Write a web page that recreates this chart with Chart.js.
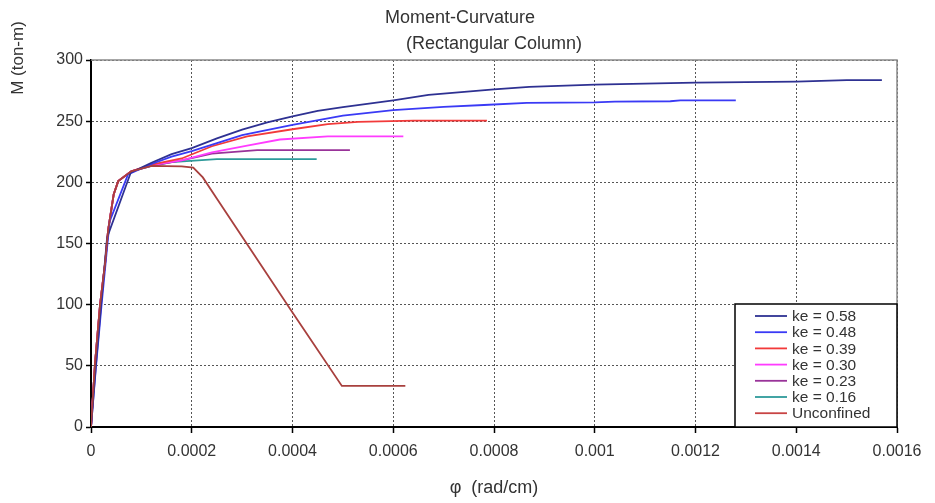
<!DOCTYPE html>
<html>
<head>
<meta charset="utf-8">
<script src="https://cdn.jsdelivr.net/npm/chart.js@4/dist/chart.umd.min.js"></script>
<style>
  html, body { margin: 0; padding: 0; background: #fff; }
  #wrap { width: 935px; height: 503px; }
</style>
</head>
<body>
<div id="wrap"><canvas id="c" width="935" height="503"></canvas></div>
<script>
// ---- Data ----
const seriesLabels = ['ke = 0.58', 'ke = 0.48', 'ke = 0.39', 'ke = 0.30', 'ke = 0.23', 'ke = 0.16', 'Unconfined'];

const phi058 = [0, 0.00001, 0.00002, 0.000032, 0.000079, 0.00012, 0.00016, 0.0002, 0.00025, 0.0003, 0.00035, 0.0004, 0.00045, 0.0005, 0.0006, 0.00067, 0.0008, 0.00087, 0.001, 0.0012, 0.0014, 0.0015, 0.00157];
const m058   = [0, 52, 100, 155, 208, 216, 223, 228, 236, 243, 249, 254, 258.5, 261.5, 267, 271.5, 276, 278, 279.8, 281.5, 282.3, 283.5, 283.6];

const phi048 = [0, 0.00001, 0.000021, 0.000037, 0.0000735, 0.00012, 0.00016, 0.0002, 0.00025, 0.0003, 0.0004, 0.0005, 0.0006, 0.0007, 0.00078, 0.000865, 0.001, 0.00104, 0.00115, 0.00117, 0.00128];
const m048   = [0, 50, 100, 168, 206.5, 215, 221, 225.5, 232, 238.5, 247, 254.5, 259, 261.7, 263.2, 265, 265.3, 266, 266.3, 267, 267];

const phi039 = [0, 0.000008, 0.000018, 0.000028, 0.000034, 0.000045, 0.000054, 0.00008, 0.00012, 0.00018, 0.00024, 0.00031, 0.0004, 0.00047, 0.00053, 0.00064, 0.000786];
const m039   = [0, 52, 100, 134, 161, 190, 201, 209, 214.5, 219.5, 229.5, 237.5, 243.4, 247.5, 249.5, 250.5, 250.5];

const phi030 = [0, 0.000008, 0.000018, 0.000028, 0.000034, 0.000045, 0.000054, 0.00008, 0.00012, 0.00018, 0.00024, 0.00031, 0.000375, 0.00047, 0.00062];
const m030   = [0, 52, 100, 134, 161, 190, 201, 209, 214, 218, 224.5, 230, 235, 237.5, 237.5];

const phi023 = [0, 0.000008, 0.000018, 0.000028, 0.000034, 0.000045, 0.000054, 0.00008, 0.00012, 0.00018, 0.00024, 0.00033, 0.000514];
const m023   = [0, 52, 100, 134, 161, 190, 201, 209, 213.5, 218, 223.5, 226.3, 226.3];

const phi016 = [0, 0.000008, 0.000018, 0.000028, 0.000034, 0.000045, 0.000054, 0.00008, 0.00012, 0.00016, 0.00025, 0.000448];
const m016   = [0, 52, 100, 134, 161, 190, 201, 209, 213.5, 216.5, 218.9, 218.9];

const phiUnc = [0, 0.000008, 0.000018, 0.000028, 0.000034, 0.000045, 0.000054, 0.00008, 0.00012, 0.00018, 0.000203, 0.000222, 0.00025, 0.0004, 0.000498, 0.000624];
const mUnc   = [0, 52, 100, 134, 161, 190, 201, 209, 213.5, 213, 212, 204, 186.5, 93.5, 33.6, 33.6];

const xTickLabels = ['0', '0.0002', '0.0004', '0.0006', '0.0008', '0.001', '0.0012', '0.0014', '0.0016'];
const yTickLabels = ['0', '50', '100', '150', '200', '250', '300'];

const colors = ['#2E3192', '#3A3AF5', '#F23A3A', '#FF3CFF', '#993399', '#2E9A9A', '#A8403E'];
const legendColors = ['#2E3192', '#3A3AF5', '#F23A3A', '#FF3CFF', '#993399', '#2E9A9A', '#C84444'];

const xs = [phi058, phi048, phi039, phi030, phi023, phi016, phiUnc];
const ys = [m058, m048, m039, m030, m023, m016, mUnc];

const datasets = seriesLabels.map((lab, i) => ({
  label: lab,
  data: xs[i].map((x, j) => ({ x: x, y: ys[i][j] })),
  borderColor: colors[i],
  backgroundColor: colors[i],
  borderWidth: 1.8,
  pointRadius: 0,
  showLine: true,
  tension: 0,
  order: i === 6 ? 0 : i + 1
}));

const FONT = '"Liberation Sans", Arial, sans-serif';
const TXT = '#333333';

const decorPlugin = {
  id: 'decor',
  afterDatasetsDraw(chart) {
    const ctx = chart.ctx;
    const a = chart.chartArea;
    ctx.save();
    // top and right frame
    ctx.strokeStyle = '#8a8a8a';
    ctx.lineWidth = 1.5;
    ctx.beginPath();
    ctx.moveTo(a.left, a.top);
    ctx.lineTo(a.right, a.top);
    ctx.lineTo(a.right, a.bottom);
    ctx.stroke();
    // legend box
    const bx = 735, by = 304, bw = a.right - 735, bh = a.bottom - 304;
    ctx.fillStyle = '#fff';
    ctx.fillRect(bx, by, bw, bh);
    ctx.strokeStyle = '#000';
    ctx.lineWidth = 1.5;
    ctx.strokeRect(bx, by, bw, bh);
    ctx.font = '15.5px ' + FONT;
    ctx.textBaseline = 'middle';
    ctx.textAlign = 'left';
    chart.data.datasets.forEach((ds, i) => {
      const yy = 316 + i * 16.2;
      ctx.strokeStyle = legendColors[i];
      ctx.lineWidth = 1.8;
      ctx.beginPath();
      ctx.moveTo(755, yy);
      ctx.lineTo(787, yy);
      ctx.stroke();
      ctx.fillStyle = TXT;
      ctx.fillText(ds.label, 792, yy + 1);
    });
    ctx.restore();
  },
  afterDraw(chart) {
    const ctx = chart.ctx;
    ctx.save();
    ctx.fillStyle = TXT;
    ctx.textAlign = 'center';
    ctx.textBaseline = 'middle';
    ctx.font = '18px ' + FONT;
    ctx.fillText('Moment-Curvature', 460, 18);
    ctx.font = '18px ' + FONT;
    ctx.fillText('(Rectangular Column)', 494, 44);
    // y axis title (placed near the top)
    ctx.translate(18, 58);
    ctx.rotate(-Math.PI / 2);
    ctx.font = '17px ' + FONT;
    ctx.fillText('M (ton-m)', 0, 0);
    ctx.restore();
  }
};

new Chart(document.getElementById('c'), {
  type: 'scatter',
  data: { datasets: datasets },
  options: {
    responsive: false,
    animation: false,
    layout: { padding: { top: 60, left: 0, right: 38, bottom: 0 } },
    plugins: {
      legend: { display: false },
      title: { display: false },
      tooltip: { enabled: false }
    },
    scales: {
      x: {
        type: 'linear',
        min: 0, max: 0.0016,
        afterFit(s) { s.height = 76; },
        ticks: {
          stepSize: 0.0002,
          color: TXT,
          font: { family: FONT, size: 16 },
          padding: 9,
          maxRotation: 0,
          callback: (v, i) => xTickLabels[i]
        },
        grid: { color: '#555', lineWidth: 1, tickColor: '#000', tickLength: 6, tickWidth: 1.5, tickBorderDash: [] },
        border: { color: '#000', width: 2, dash: [2, 2] },
        title: {
          display: true,
          text: 'φ  (rad/cm)',
          color: TXT,
          font: { family: FONT, size: 18 },
          padding: { top: 0, bottom: 4 }
        }
      },
      y: {
        min: 0, max: 300,
        afterFit(s) { s.width = 91; },
        ticks: {
          stepSize: 50,
          color: TXT,
          font: { family: FONT, size: 16 },
          padding: 3,
          callback: (v, i) => yTickLabels[i]
        },
        grid: { color: '#555', lineWidth: 1, tickColor: '#000', tickLength: 5, tickWidth: 1.5, tickBorderDash: [] },
        border: { color: '#000', width: 2, dash: [2, 2] }
      }
    }
  },
  plugins: [decorPlugin]
});
</script>
</body>
</html>
